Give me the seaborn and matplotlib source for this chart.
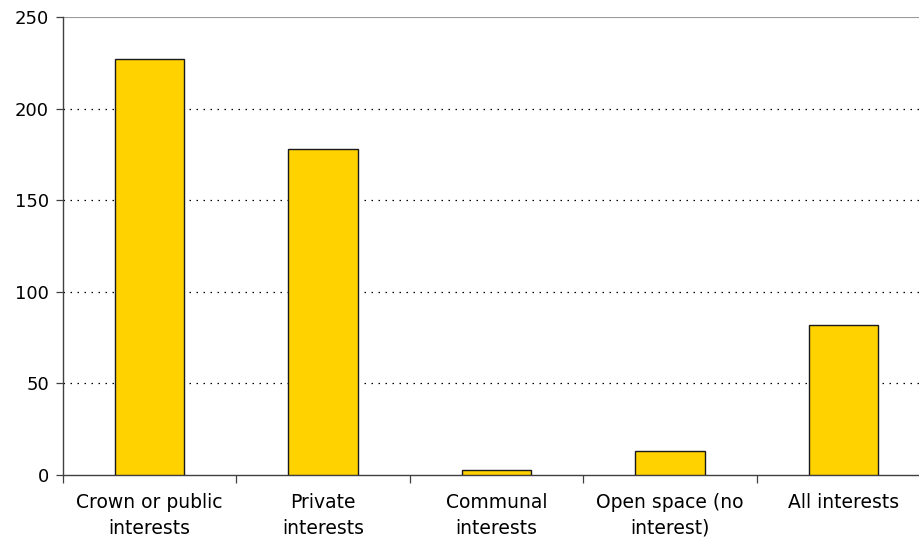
import matplotlib
matplotlib.use("Agg")
import matplotlib.pyplot as plt
from matplotlib.ticker import FixedLocator
import pandas as pd
import seaborn as sns

categories = [
    "Crown or public\ninterests",
    "Private\ninterests",
    "Communal\ninterests",
    "Open space (no\ninterest)",
    "All interests",
]
values = [227, 178, 3, 13, 82]
y_ticks = [0, 50, 100, 150, 200, 250]

df = pd.DataFrame({"category": categories, "value": values})

sns.set_theme(style="white")
plt.rcParams["font.family"] = ["DejaVu Sans"]
plt.rcParams["text.color"] = "black"
plt.rcParams["xtick.color"] = "black"
plt.rcParams["ytick.color"] = "black"

fig = plt.figure(figsize=(9.2, 5.43), dpi=100)
ax = fig.add_axes([63 / 920, 68 / 543, 867 / 920, 458 / 543])

sns.barplot(data=df, x="category", y="value", color="#FFD200",
            saturation=1, width=0.4, edgecolor="#1a1a1a", linewidth=1.0,
            ax=ax, zorder=3)

ax.set_xlim(-0.5, 4.5)
ax.set_ylim(0, 250)
ax.set_xlabel("")
ax.set_ylabel("")

# dotted horizontal gridlines
for y in y_ticks[1:-1]:
    ax.axhline(y, color="black", linestyle=(0, (1.2, 4.4)), linewidth=0.9, zorder=1)
ax.axhline(250, color="#9a9a9a", linewidth=0.8, zorder=1)

ax.yaxis.set_major_locator(FixedLocator(y_ticks))
ax.tick_params(axis="y", which="major", length=5, width=0.9, color="#404040",
               labelcolor="black", direction="out", labelsize=13, pad=5, left=True)
ax.xaxis.set_minor_locator(FixedLocator([-0.5, 0.5, 1.5, 2.5, 3.5, 4.5]))
ax.tick_params(axis="x", which="major", length=0, labelsize=13.5,
               labelcolor="black", pad=13)
ax.tick_params(axis="x", which="minor", length=6, width=0.9, color="#404040",
               direction="out", bottom=True)
for lab in ax.get_xticklabels():
    lab.set_linespacing(1.45)

for side in ("top", "right"):
    ax.spines[side].set_visible(False)
for side in ("left", "bottom"):
    ax.spines[side].set_color("#404040")
    ax.spines[side].set_linewidth(1.0)

fig.savefig("out.png", dpi=100)
